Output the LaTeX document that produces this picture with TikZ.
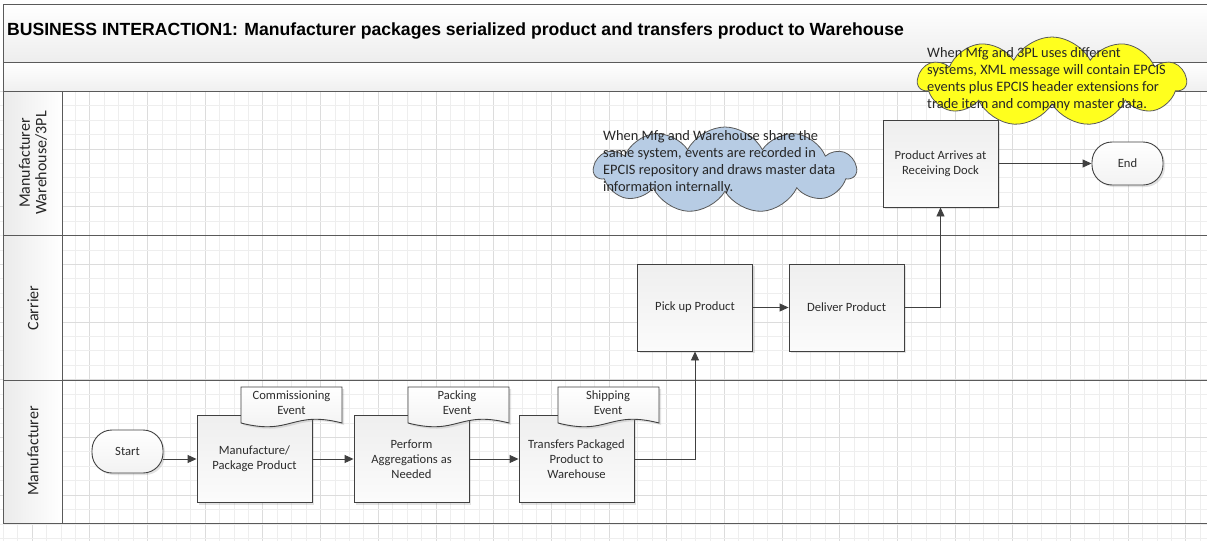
\documentclass[tikz,border=0pt]{standalone}
\usepackage{fontspec}
\setmainfont{Carlito}
\newfontfamily\titlefont{Liberation Sans}
\usetikzlibrary{shapes.symbols,shapes.misc,arrows.meta,shadows,calc}
\definecolor{lineC}{RGB}{64,64,64}
\definecolor{frameC}{RGB}{90,90,90}
\definecolor{txtC}{RGB}{45,45,45}
\definecolor{cloudBlue}{RGB}{183,204,228}
\definecolor{cloudYellow}{RGB}{255,255,30}
\definecolor{gridA}{RGB}{238,238,238}
\definecolor{gridB}{RGB}{220,220,220}
\tikzset{
  boxshadow/.style={drop shadow={opacity=0.22, shadow xshift=2pt, shadow yshift=-2pt}},
  proc/.style={draw=lineC, line width=0.9pt, top color=gray!13, bottom color=gray!3,
    minimum width=115pt, minimum height=87pt, align=center, inner sep=2pt,
    font=\fontsize{12.6}{15}\selectfont, text=txtC, boxshadow},
  term/.style={draw=lineC, line width=0.9pt, rounded corners=20pt, top color=white,
    bottom color=gray!10, minimum width=71pt, minimum height=43pt,
    font=\fontsize{12.6}{15}\selectfont, text=txtC, boxshadow},
  docfill/.style={draw=lineC, line width=0.9pt, top color=white, bottom color=gray!12, boxshadow},
  doctext/.style={align=center, font=\fontsize{12.6}{15}\selectfont, text=txtC, inner sep=0pt},
  flow/.style={draw=lineC, line width=0.9pt, -{Triangle[length=9pt,width=8pt]}},
  cloudshape/.style={cloud, cloud puffs=11, cloud puff arc=125, cloud ignores aspect,
    draw=gray!70!black, line width=0.8pt, inner sep=0pt},
  cloudtext/.style={align=left, anchor=west, font=\fontsize{14.4}{17}\selectfont, text=black!85, inner sep=0pt},
  frame/.style={draw=frameC, line width=1pt},
  lanelabel/.style={rotate=90, align=center, font=\fontsize{16}{16.7}\selectfont, text=black!85},
}
\newcommand\docshape[2]{%
  \path[docfill] (#1,#2) -- ({#1+101},#2) -- ({#1+101},{#2+36})
    .. controls ({#1+50.5},{#2+23}) and ({#1+50.5},{#2+49}) .. (#1,{#2+36}) -- cycle;}
\begin{document}
\begin{tikzpicture}[x=1pt,y=-1pt]
\useasboundingbox (0,0) rectangle (1207,541);
\fill[white] (0,0) rectangle (1207,541);
% grid
\foreach \k in {-4,...,79} {
  \pgfmathtruncatemacro\m{mod(\k+400,4)}
  \ifnum\m=2 \draw[gridB, line width=0.8pt] ({61+14.42*\k},91) -- ({61+14.42*\k},541);
  \else \draw[gridA, line width=0.8pt] ({61+14.42*\k},91) -- ({61+14.42*\k},541); \fi
}
\foreach \k in {0,...,31} {
  \pgfmathtruncatemacro\m{mod(\k,4)}
  \ifnum\m=0 \draw[gridB, line width=0.8pt] (0,{91.3+14.42*\k}) -- (1207,{91.3+14.42*\k});
  \else \draw[gridA, line width=0.8pt] (0,{91.3+14.42*\k}) -- (1207,{91.3+14.42*\k}); \fi
}
% bands
\path[frame, top color=white, bottom color=gray!14] (3,4) rectangle (1220,62);
\path[frame, top color=white, bottom color=gray!12] (3,62) rectangle (1220,91);
\node[anchor=west, inner sep=0pt, font=\titlefont\bfseries\fontsize{17.6}{20}\selectfont] (title) at (7,31)
  {BUSINESS INTERACTION1: Manufacturer packages serialized product and transfers product to Warehouse};
% lane label cells
\path[left color=gray!16, right color=white] (3,91) rectangle (62,523);
\draw[frame] (3,91) rectangle (1220,523);
\draw[frame] (3,235.5) -- (1220,235.5);
\draw[frame] (3,380) -- (1220,380);
\draw[frame] (62,91) -- (62,523);
\node[lanelabel] (lane1) at (33,163) {Manufacturer\\Warehouse/3PL};
\node[lanelabel] (lane2) at (33,308) {Carrier};
\node[lanelabel] (lane3) at (33,451) {Manufacturer};
% process nodes
\node[term] (start) at (127.5,451.5) {Start};
\node[proc] (mfg) at (254.5,459) {Manufacture/\\Package Product};
\node[proc] (agg) at (411.5,459) {Perform\\Aggregations as\\Needed};
\node[proc] (xfer) at (576.5,459) {Transfers Packaged\\Product to\\Warehouse};
\node[proc] (pick) at (695,307.5) {Pick up Product};
\node[proc] (deliv) at (846.5,307.5) {Deliver Product};
\node[proc] (arr) at (940.5,163.5) {Product Arrives at\\Receiving Dock};
\node[term] (end) at (1127.5,163.5) {End};
% documents
\docshape{241}{387}
\node[doctext] (ce) at (291.5,402.5) {Commissioning\\Event};
\docshape{408}{387}
\node[doctext] (pe) at (457,402.5) {Packing\\Event};
\docshape{558}{387}
\node[doctext] (se) at (608,402.5) {Shipping\\Event};
% connectors
\draw[flow] (start.east |- mfg.west) -- (mfg.west);
\draw[flow] (mfg.east) -- (agg.west);
\draw[flow] (agg.east) -- (xfer.west);
\draw[flow] (xfer.east) -| (pick.south);
\draw[flow] (pick.east) -- (deliv.west);
\draw[flow] (deliv.east) -| (arr.south);
\draw[flow] (arr.east) -- (end.west);
% clouds
\node[cloudshape, fill=cloudBlue, minimum width=262pt, minimum height=86pt] (bluecloud) at (725,170) {};
\node[cloudtext] (bluetext) at (603,162.3) {When Mfg and Warehouse share the\\same system, events are recorded in\\EPCIS repository and draws master data\\information internally.};
\node[cloudshape, fill=cloudYellow, minimum width=268pt, minimum height=89pt] (yellowcloud) at (1052,81.5) {};
\node[cloudtext] (yellowtext) at (927,78.7) {When Mfg and 3PL uses different\\systems, XML message will contain EPCIS\\events plus EPCIS header extensions for\\trade item and company master data.};
\end{tikzpicture}
\end{document}
